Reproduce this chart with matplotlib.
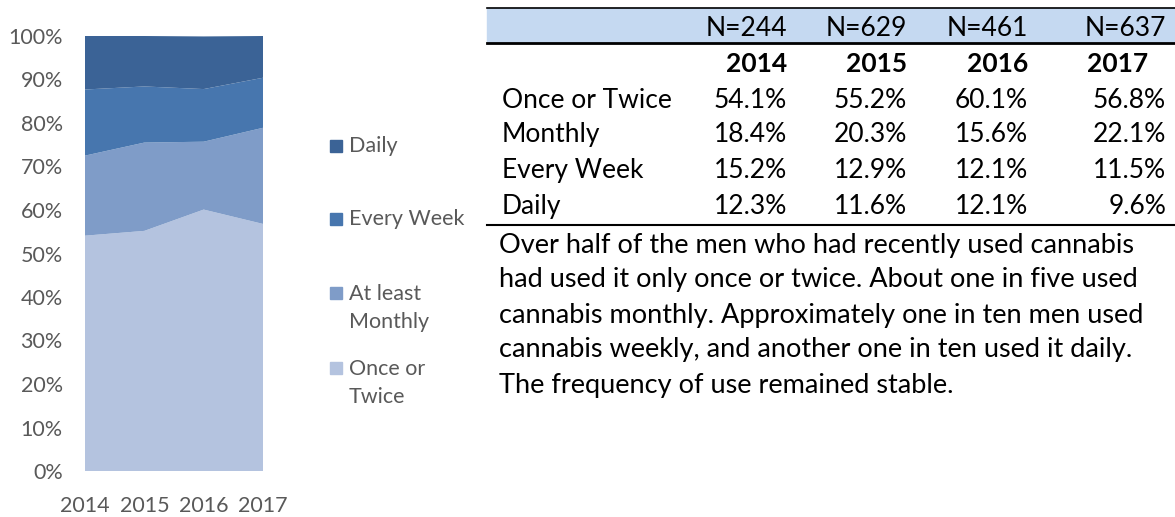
import matplotlib
matplotlib.use("Agg")
import matplotlib.pyplot as plt
import numpy as np

plt.rcParams['font.family'] = ['Lato', 'DejaVu Sans']

years = [2014, 2015, 2016, 2017]
once_twice = [54.1, 55.2, 60.1, 56.8]
monthly = [18.4, 20.3, 15.6, 22.1]
every_week = [15.2, 12.9, 12.1, 11.5]
daily = [12.3, 11.6, 12.1, 9.6]
sample_n = ['N=244', 'N=629', 'N=461', 'N=637']

series_labels = ['Once or\nTwice', 'At least\nMonthly', 'Every Week', 'Daily']
colors = ['#b4c3df', '#7f9cc8', '#4776ae', '#3b6396']

row_labels = ['Once or Twice', 'Monthly', 'Every Week', 'Daily']
paragraph = [
    "Over half of the men who had recently used cannabis",
    "had used it only once or twice. About one in five used",
    "cannabis monthly. Approximately one in ten men used",
    "cannabis weekly, and another one in ten used it daily.",
    "The frequency of use remained stable.",
]

W, H = 1175, 517
fig = plt.figure(figsize=(W / 100, H / 100), dpi=100)

def fx(px):
    return px / W

def fy(py):
    return 1 - py / H

# stacked area chart
ax = fig.add_axes([fx(85), fy(471), fx(263) - fx(85), fy(36) - fy(471)])
ax.stackplot(years, once_twice, monthly, every_week, daily, colors=colors)
ax.set_xlim(2014, 2017)
ax.set_ylim(0, 100)
ax.set_yticks(range(0, 101, 10))
ax.set_yticklabels([f'{v}%' for v in range(0, 101, 10)])
ax.set_xticks(years)
ax.tick_params(length=0, labelsize=15.5, colors='#595959')
ax.tick_params(axis='y', pad=16)
ax.tick_params(axis='x', pad=18)
for s in ax.spines.values():
    s.set_visible(False)

# legend, top entry is Daily
leg_y = [146, 219, 308, 383]
for lab, col, y in zip(series_labels[::-1], colors[::-1], leg_y):
    first = y if '\n' not in lab else y - 15
    fig.patches.append(plt.Rectangle((fx(330), fy(first + 6)), fx(12), fy(first - 6) - fy(first + 6),
                                     transform=fig.transFigure, color=col))
    fig.text(fx(349), fy(y), lab, fontsize=15.5, color='#595959', va='center', ha='left',
             linespacing=1.45)

# table
fig.patches.append(plt.Rectangle((fx(487), fy(43)), 1 - fx(487), fy(8) - fy(43),
                                 transform=fig.transFigure, color='#c5d9f1'))
fig.add_artist(plt.Line2D([fx(487), 1], [fy(8), fy(8)], color='black', lw=1.2))
fig.add_artist(plt.Line2D([fx(487), 1], [fy(43), fy(43)], color='black', lw=2))
fig.add_artist(plt.Line2D([fx(487), 1], [fy(225), fy(225)], color='black', lw=1.5))

col_x = [787, 907, 1028, 1166]
year_x = [787, 907, 1028, 1148]
tsize = 19
for i in range(4):
    fig.text(fx(col_x[i]), fy(28), sample_n[i], fontsize=tsize, ha='right', va='center')
    fig.text(fx(year_x[i]), fy(64), str(years[i]), fontsize=tsize, ha='right', va='center',
             fontweight='bold')

table_vals = [once_twice, monthly, every_week, daily]
row_y = [100, 135, 171, 207]
for lab, vals, y in zip(row_labels, table_vals, row_y):
    fig.text(fx(502), fy(y), lab, fontsize=tsize, ha='left', va='center')
    for i in range(4):
        fig.text(fx(col_x[i]), fy(y), f'{vals[i]:.1f}%', fontsize=tsize, ha='right', va='center')

for k, line in enumerate(paragraph):
    fig.text(fx(499), fy(245 + 35 * k), line, fontsize=19.5, ha='left', va='center')

fig.savefig('out.png', dpi=100)
